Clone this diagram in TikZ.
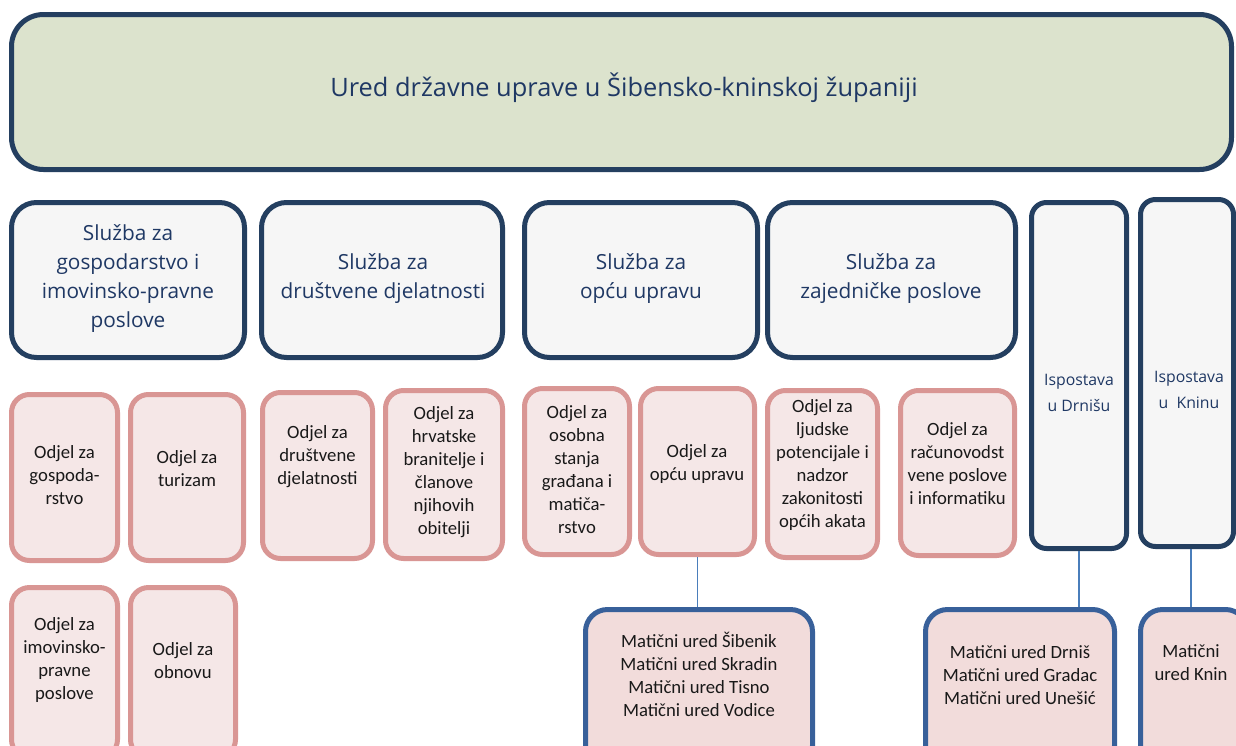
\documentclass[tikz,border=0pt]{standalone}
\usepackage{fontspec}
\setmainfont{Carlito}
\newfontfamily\osans{Open Sans}
\definecolor{navy}{HTML}{243F60}
\definecolor{navytxt}{HTML}{1F3864}
\definecolor{topfill}{HTML}{DCE3CD}
\definecolor{sfill}{HTML}{F6F6F6}
\definecolor{pinkline}{HTML}{D99694}
\definecolor{pinkfill}{HTML}{F5E7E7}
\definecolor{mfill}{HTML}{F2DCDB}
\definecolor{mline}{HTML}{38609A}
\definecolor{conn}{HTML}{4A7EBB}
\tikzset{
  topbox/.style={draw=navy, line width=5pt, fill=topfill, rounded corners=32pt, inner sep=0pt},
  sbox/.style={draw=navy, line width=5pt, fill=sfill, rounded corners=25pt, inner sep=0pt},
  ibox/.style={draw=navy, line width=5pt, fill=sfill, rounded corners=15pt, inner sep=0pt},
  obox/.style={draw=pinkline, line width=5pt, fill=pinkfill, rounded corners=18pt, inner sep=0pt},
  mbox/.style={draw=mline, line width=5pt, fill=mfill, rounded corners=22pt, inner sep=0pt},
  stext/.style={font=\osans\fontsize{20.8}{29}\selectfont, text=navytxt, align=center},
  itext/.style={font=\osans\fontsize{15.8}{26}\selectfont, text=navytxt, align=center},
  otext/.style={font=\fontsize{18.7}{23}\selectfont, text=black!90, align=center},
  conline/.style={draw=conn, line width=1.5pt}
}
\begin{document}
\begin{tikzpicture}[x=1pt,y=-1pt]
\useasboundingbox (0,0) rectangle (1236,745);
\clip (0,0) rectangle (1236,745);
\fill[white] (0,0) rectangle (1236,745);
% top
\node[topbox, minimum width=1220pt, minimum height=155pt] (top) at (621.5,92) {};
\node[font=\osans\fontsize{25.4}{30}\selectfont, text=navytxt] (toptxt) at (624,88) {Ured državne uprave u Šibensko-kninskoj županiji};
% sluzbe
\node[sbox, minimum width=233pt, minimum height=155pt] (s1) at (128,280) {};
\node[stext] (s1t) at (128,279) {Služba za\\gospodarstvo i\\imovinsko-pravne\\poslove};
\node[sbox, minimum width=241pt, minimum height=155pt] (s2) at (382,280) {};
\node[stext] (s2t) at (383,279) {Služba za\\društvene djelatnosti};
\node[sbox, minimum width=233pt, minimum height=155pt] (s3) at (641,280) {};
\node[stext] (s3t) at (641,279) {Služba za\\opću upravu};
\node[sbox, minimum width=248pt, minimum height=155pt] (s4) at (891.5,280) {};
\node[stext] (s4t) at (891,279) {Služba za\\zajedničke poslove};
% ispostave
\node[ibox, minimum width=95pt, minimum height=346pt] (d) at (1079,375.5) {};
\node[itext] (dt) at (1079,393) {Ispostava\\u Drnišu};
\node[ibox, minimum width=93pt, minimum height=347pt] (k) at (1187,373) {};
\node[itext] (kt) at (1189,390) {Ispostava\\u\ \ Kninu};
% odjeli
\node[obox, minimum width=106pt, minimum height=166pt] (o1) at (64.5,477.5) {};
\node[otext] (o1t) at (64.5,475) {Odjel za\\gospoda-\\rstvo};
\node[obox, minimum width=113pt, minimum height=166pt] (o2) at (187,477.5) {};
\node[otext] (o2t) at (187,469) {Odjel za\\turizam};
\node[obox, minimum width=110pt, minimum height=166pt] (o3) at (317.5,475.5) {};
\node[otext] (o3t) at (317.5,457) {Odjel za\\društvene\\djelatnosti};
\node[obox, minimum width=117pt, minimum height=168pt] (o4) at (444,474.5) {};
\node[otext] (o4t) at (444,472) {Odjel za\\hrvatske\\branitelje i\\članove\\njihovih\\obitelji};
\node[obox, minimum width=105pt, minimum height=166pt] (o5) at (577,471.5) {};
\node[otext] (o5t) at (577,470) {Odjel za\\osobna\\stanja\\građana i\\matiča-\\rstvo};
\node[obox, minimum width=114pt, minimum height=166pt] (o6) at (697.5,471.5) {};
\node[otext] (o6t) at (697,464) {Odjel za\\opću upravu};
\node[obox, minimum width=110pt, minimum height=167pt] (o7) at (822.5,474) {};
\node[otext] (o7t) at (822.5,465) {Odjel za\\ljudske\\potencijale i\\nadzor\\zakonitosti\\općih akata};
\node[obox, minimum width=114pt, minimum height=165pt] (o8) at (957.5,473) {};
\node[otext] (o8t) at (957.5,464) {Odjel za\\računovodst\\vene poslove\\i informatiku};
\node[obox, minimum width=106pt, minimum height=170pt] (o9) at (64.5,672.5) {};
\node[otext] (o9t) at (64.5,660) {Odjel za\\imovinsko-\\pravne\\poslove};
\node[obox, minimum width=105pt, minimum height=170pt] (o10) at (183,672.5) {};
\node[otext] (o10t) at (183,661) {Odjel za\\obnovu};
% maticni
\node[mbox, minimum width=227pt, minimum height=158pt] (m1) at (699,688.5) {};
\node[otext] (m1t) at (699,674) {Matični ured Šibenik\\Matični ured Skradin\\Matični ured Tisno\\Matični ured Vodice};
\node[mbox, minimum width=189pt, minimum height=158pt] (m2) at (1020,688.5) {};
\node[otext] (m2t) at (1020,675) {Matični ured Drniš\\Matični ured Gradac\\Matični ured Unešić};
\node[mbox, minimum width=107pt, minimum height=158pt] (m3) at (1194,688.5) {};
\node[otext] (m3t) at (1191,663) {Matični\\ured Knin};
% connectors
\draw[conline] (o6.south) -- (o6.south |- m1.north);
\draw[conline] (d.south) -- (d.south |- m2.north);
\draw[conline] ([xshift=4pt]k.south) -- ([xshift=4pt]k.south |- m3.north);
\end{tikzpicture}
\end{document}
